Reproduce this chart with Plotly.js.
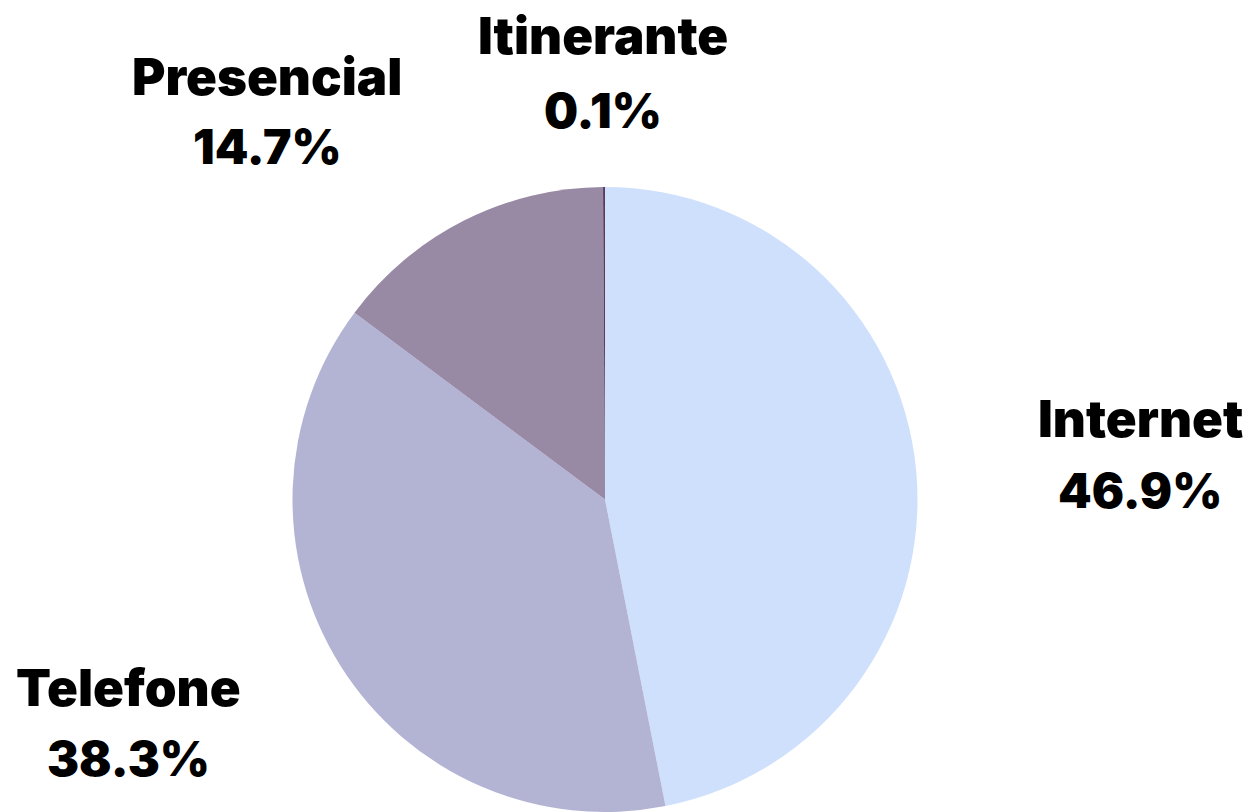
<!DOCTYPE html>
<html>
<head>
<meta charset="utf-8">
<script src="https://cdn.plot.ly/plotly-3.0.1.min.js"></script>
<style>html,body{margin:0;padding:0;background:#fff;}#chart{width:1257px;height:812px;}</style>
</head>
<body>
<div id="chart"></div>
<script>
const categories = ["Internet", "Telefone", "Presencial", "Itinerante"];
const shares = [46.9, 38.3, 14.7, 0.1];
const sliceColors = ["#cfe0fc", "#b3b3d4", "#9889a5", "#5b3a5b"];

// label placement (pixel centres of the name line and the percentage line)
const labelX = [1140, 128, 267, 603];
const nameY = [418, 687, 76, 35];
const pctY = [490, 758, 147, 110];

const W = 1257, H = 812;
const nameFont = {family: "Inter, 'DejaVu Sans', sans-serif", size: 51, color: "#000", weight: 900};
const pctFont = {family: "Inter, 'DejaVu Sans', sans-serif", size: 48, color: "#000", weight: 900};

const annotations = [];
categories.forEach((c, i) => {
  annotations.push({x: labelX[i] / W, y: 1 - nameY[i] / H, xref: "paper", yref: "paper",
    text: c, showarrow: false, xanchor: "center", yanchor: "middle", font: nameFont});
  annotations.push({x: labelX[i] / W, y: 1 - pctY[i] / H, xref: "paper", yref: "paper",
    text: shares[i].toFixed(1) + "%", showarrow: false, xanchor: "center", yanchor: "middle", font: pctFont});
});

Plotly.newPlot("chart", [{
  type: "pie",
  labels: categories,
  values: shares,
  sort: false,
  direction: "clockwise",
  rotation: 0,
  marker: {colors: sliceColors, line: {width: 0}},
  textinfo: "none",
  hoverinfo: "label+percent",
  showlegend: false,
  domain: {x: [292 / W, 918 / W], y: [0, 1 - 187 / H]}
}], {
  width: W, height: H,
  margin: {l: 0, r: 0, t: 0, b: 0},
  paper_bgcolor: "#fff",
  showlegend: false,
  annotations: annotations
}, {displayModeBar: false, staticPlot: true});
</script>
</body>
</html>
